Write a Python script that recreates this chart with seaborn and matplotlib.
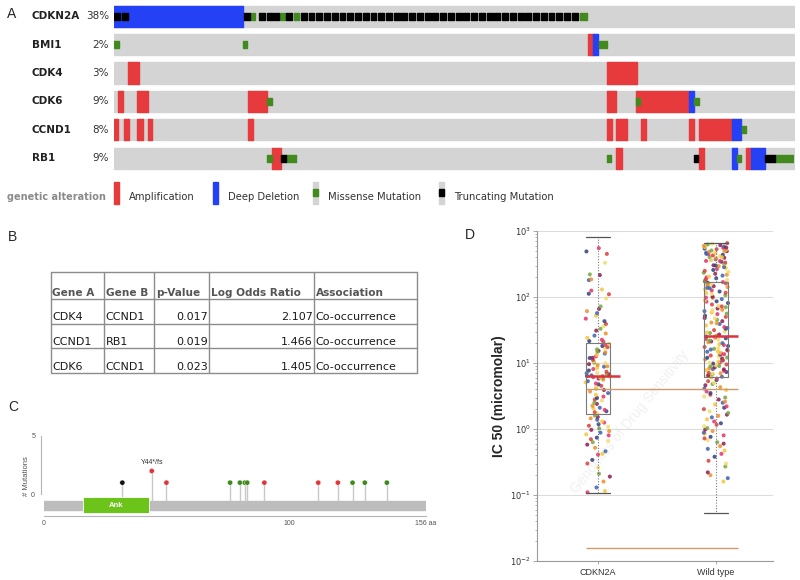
"""Four-panel figure: oncoprint (A), co-occurrence table (B), lollipop plot (C), IC50 strip/box plot (D)."""

import matplotlib.pyplot as plt
import numpy as np
import pandas as pd
import seaborn as sns
from matplotlib.patches import Rectangle

sns.set_style("white")
plt.rcParams["font.family"] = ["DejaVu Sans"]

W, H = 800, 580
ARIAL = "Liberation Sans"

# ---------------- A: oncoprint (sample index, segments as (start, length)) ----------------
GENES = ["CDKN2A", "BMI1", "CDK4", "CDK6", "CCND1", "RB1"]
GENE_PCTS = ["38%", "2%", "3%", "9%", "8%", "9%"]
N_SAMPLES = 180

AMPLIFICATION = {
    "BMI1": [(125.5, 1.3)],
    "CDK4": [(3.8, 2.7), (130.5, 7.9)],
    "CDK6": [(1.1, 1.4), (6.2, 2.7), (35.4, 5.2), (130.5, 2.5), (138.3, 13.9)],
    "CCND1": [(0.1, 1.0), (2.6, 1.3), (6.2, 1.4), (8.9, 1.2), (35.4, 1.5), (130.5, 1.3),
              (133.0, 2.9), (139.4, 1.4), (152.2, 1.3), (154.8, 8.8)],
    "RB1": [(41.7, 2.6), (133.0, 1.4), (154.8, 1.3), (167.3, 1.4)],
}
DEEP_DELETION = {
    "CDKN2A": [(0.1, 34.1)],
    "BMI1": [(126.8, 1.3)],
    "CDK6": [(152.2, 1.3)],
    "CCND1": [(163.6, 2.4)],
    "RB1": [(163.6, 1.4), (168.7, 3.7)],
}
MISSENSE = {
    "CDKN2A": [(36.2, 1.2), (44.0, 1.3), (47.6, 1.3), (123.3, 1.9)],
    "BMI1": [(0.1, 1.1), (34.2, 1.1), (128.3, 2.2)],
    "CDK6": [(40.6, 1.2), (138.3, 1.0), (153.5, 1.3)],
    "CCND1": [(166.2, 1.1)],
    "RB1": [(40.6, 1.1), (45.5, 2.6), (130.5, 1.0), (164.9, 1.1), (175.0, 4.8)],
}
TRUNCATING = {
    "CDKN2A": [(0.1, 1.6), (2.0, 1.6), (34.5, 1.5), (38.5, 1.5), (40.5, 1.5), (42.3, 1.5),
               (45.6, 1.5), (49.5, 1.5), (51.5, 1.5), (53.6, 1.5), (55.6, 1.5), (57.7, 1.5),
               (59.7, 1.5), (61.8, 1.5), (63.8, 1.5), (65.9, 1.5), (67.9, 1.5), (70.0, 1.5),
               (72.0, 1.5), (74.1, 1.5), (76.1, 1.5), (78.2, 1.5), (80.2, 1.5), (82.3, 1.5),
               (84.3, 1.5), (86.4, 1.5), (88.4, 1.5), (90.5, 1.5), (92.5, 1.5), (94.6, 1.5),
               (96.6, 1.5), (98.7, 1.5), (100.7, 1.5), (102.8, 1.5), (104.8, 1.5), (106.9, 1.5),
               (108.9, 1.5), (111.0, 1.5), (113.0, 1.5), (115.1, 1.5), (117.1, 1.5), (119.2, 1.5),
               (121.2, 1.5)],
    "RB1": [(44.3, 1.2), (153.5, 1.2), (172.4, 1.2), (173.7, 1.2)],
}
LEGEND_LABELS = ["Amplification", "Deep Deletion", "Missense Mutation", "Truncating Mutation"]

TRACK_GREY = "#d4d4d4"
AMP_RED = "#e63a3c"
DEL_BLUE = "#2541f5"
MIS_GREEN = "#438a1e"

# ---------------- B: mutual exclusivity / co-occurrence table ----------------
TABLE_HEADER = ["Gene A", "Gene B", "p-Value", "Log Odds Ratio", "Association"]
GENE_A = ["CDK4", "CCND1", "CDK6"]
GENE_B = ["CCND1", "RB1", "CCND1"]
P_VALUES = [0.017, 0.019, 0.023]
LOG_ODDS = [2.107, 1.466, 1.405]
ASSOCIATION = ["Co-occurrence", "Co-occurrence", "Co-occurrence"]

# ---------------- C: lollipop plot ----------------
PROTEIN_LENGTH = 156
ANK_DOMAIN = (16, 43)
MUT_POS = [32, 44, 50, 76, 80, 82, 83, 90, 112, 120, 126, 131, 140]
MUT_COUNT = [1, 2, 1, 1, 1, 1, 1, 1, 1, 1, 1, 1, 1]
MUT_TYPE = ["trunc", "fs", "fs", "mis", "mis", "mis", "mis", "fs", "fs", "fs", "mis", "mis", "mis"]
MUT_COLORS = {"trunc": "#111111", "fs": "#e0353a", "mis": "#3f8a1c"}
HOTSPOT_LABEL = "Y44*/fs"

# ---------------- D: IC50 by CDKN2A status ----------------
GROUPS = ["CDKN2A", "Wild type"]
IC50_CDKN2A = [
    0.11, 0.115, 0.13, 0.16, 0.19, 0.21, 0.26, 0.3, 0.34, 0.41, 0.42, 0.46, 0.52, 0.58, 0.63,
    0.66, 0.7, 0.74, 0.8, 0.83, 0.88, 0.93, 0.97, 1.02, 1.08, 1.12, 1.18, 1.25, 1.3, 1.38,
    1.45, 1.52, 1.6,
    1.72, 1.8, 1.86, 1.95, 2.05, 2.1, 2.25, 2.4, 2.5, 2.7, 2.8, 2.95, 3.1, 3.3, 3.5, 3.7,
    3.9, 4.1, 4.3, 4.5, 4.75, 4.9, 5.1, 5.3, 5.6, 5.8, 6.0, 6.2, 6.3, 6.35, 6.1, 5.95,
    6.5, 6.6, 6.75, 6.9, 7.1, 7.4, 7.7, 8.1, 8.4, 8.8, 9.3, 9.6, 10.1, 10.6, 11.1, 11.9,
    12.6, 13.2, 13.9, 14.5, 15.3, 16.1, 16.8, 17.4, 18.1, 18.9, 19.5, 7.0, 8.9, 12.0, 14.8, 9.9,
    21, 21.5, 22.5, 24, 26, 28, 31, 33, 36, 39, 43, 47, 52, 57, 61, 66, 72, 95, 110, 112,
    125, 130, 180, 185, 215, 220, 330, 450, 490, 550,
]
IC50_WT = [
    0.16, 0.18, 0.2, 0.22, 0.27, 0.3, 0.33, 0.38, 0.42, 0.47, 0.5, 0.55, 0.6, 0.63, 0.68,
    0.72, 0.76, 0.8, 0.85, 0.88, 0.93, 0.98, 1.03, 1.1, 1.16, 1.22, 1.3, 1.4, 1.5, 1.58,
    1.65, 1.75, 1.85, 2.0, 2.1, 2.2, 2.35, 2.5, 2.6, 2.8, 3.0, 3.1, 3.3, 3.5, 3.7, 3.9,
    4.1, 4.3, 4.6, 4.8, 5.0, 5.3, 5.5, 5.8, 6.0,
    6.2, 6.35, 6.5, 6.7, 6.9, 7.1, 7.3, 7.6, 7.8, 8.1, 8.3, 8.6, 8.9, 9.2, 9.5, 9.8, 10.1,
    10.5, 10.9, 11.3, 11.7, 12.1, 12.6, 13.0, 13.4, 13.9, 14.3, 14.8, 15.3, 15.8, 16.4,
    17.0, 17.5, 18.1, 18.7, 19.3, 20.0, 20.6, 21.2, 21.9, 22.5, 23.1, 23.7, 24.3, 24.9,
    25.2, 7.0, 8.0, 9.0, 10.0, 11.0, 12.0, 13.6, 15.0, 16.0,
    26, 27, 28.5, 30, 31.5, 33, 35, 37, 39, 41, 43, 45, 47.5, 50, 52, 55, 58, 61, 64, 67,
    70, 73, 77, 81, 85, 89, 93, 97, 101, 106, 111, 116, 121, 126, 131, 136, 141, 146, 151,
    156, 161, 165, 168, 29, 34, 40, 48, 56, 63, 72, 86, 98, 115, 138, 155,
    172, 176, 181, 186, 192, 198, 204, 211, 218, 225, 233, 241, 249, 257, 266, 275, 284,
    293, 302, 312, 322, 332, 342, 352, 362, 372, 382, 393, 404, 415, 426, 437, 448, 459,
    470, 482, 494, 506, 518, 530, 542, 555, 568, 582, 596, 610, 625, 640, 655, 300, 350,
    400, 450, 500, 560,
]
BOX_Q1 = [1.7, 6.1]
BOX_MED = [6.4, 25.4]
BOX_Q3 = [19.9, 169.0]
WHISK_LO = [0.106, 0.053]
WHISK_HI = [803.0, 665.0]
THRESHOLDS = [4.0, 0.0156]
TISSUE_COLORS = ["#e8326a", "#f6c63c", "#3e63ad", "#ef8f2a", "#8c1d4f",
                 "#7aa63f", "#f3dc6b", "#d9413b", "#2f3f7c"]


fig = plt.figure(figsize=(8, 5.8), dpi=100)

# full-figure axes in pixel coordinates for labels, legend and table
ax_bg = fig.add_axes([0, 0, 1, 1])
ax_bg.set_xlim(0, W)
ax_bg.set_ylim(H, 0)
ax_bg.axis("off")


def px_axes(left, top, right, bottom):
    return fig.add_axes([left / W, 1 - bottom / H, (right - left) / W, (bottom - top) / H])


for letter, x, y in [("A", 7, 14), ("B", 8, 237), ("C", 8, 407), ("D", 465, 235)]:
    ax_bg.text(x, y, letter, fontsize=10, family=ARIAL, ha="left", va="center")

# ---- A ----
ax_a = px_axes(114, 2, 794, 172.4)
ax_a.set_xlim(0, N_SAMPLES)
ax_a.set_ylim(len(GENES) - 0.5, -0.5)
ax_a.axis("off")
for i, (gene, pct) in enumerate(zip(GENES, GENE_PCTS)):
    ax_a.broken_barh([(0, N_SAMPLES)], (i - 0.37, 0.74), color=TRACK_GREY)
    ax_a.broken_barh(AMPLIFICATION.get(gene, []), (i - 0.37, 0.74), color=AMP_RED)
    ax_a.broken_barh(DEEP_DELETION.get(gene, []), (i - 0.37, 0.74), color=DEL_BLUE)
    ax_a.broken_barh(MISSENSE.get(gene, []), (i - 0.12, 0.24), color=MIS_GREEN)
    ax_a.broken_barh(TRUNCATING.get(gene, []), (i - 0.12, 0.24), color="black")
    ax_a.annotate(gene, xy=(32 / W, i), xycoords=("figure fraction", "data"),
                  ha="left", va="center", fontsize=7.5, fontweight="bold", color="#222222")
    ax_a.annotate(pct, xy=(109 / W, i), xycoords=("figure fraction", "data"),
                  ha="right", va="center", fontsize=7.5, color="#333333")

# legend row
ax_bg.text(7, 197, "genetic alteration", fontsize=7, fontweight="bold", color="#8a8a8a",
           ha="left", va="center")
legend_x = [114, 213, 313, 439]
legend_fill = [AMP_RED, DEL_BLUE, TRACK_GREY, TRACK_GREY]
legend_mark = [None, None, MIS_GREEN, "black"]
for x, label, fill, mark in zip(legend_x, LEGEND_LABELS, legend_fill, legend_mark):
    ax_bg.add_patch(Rectangle((x, 182), 5, 22, color=fill))
    if mark:
        ax_bg.add_patch(Rectangle((x, 189), 5, 7, color=mark))
    ax_bg.text(x + 15, 196.5, label, fontsize=7.2, color="#333333", ha="left", va="center")

# ---- B ----
col_x = [50.5, 104, 154, 209.3, 314.3, 416.5]
row_y = [272.3, 299, 323.5, 347.8, 372.7]
for x in col_x:
    ax_bg.plot([x, x], [row_y[0], row_y[-1]], color="#8c8c8c", lw=1.0)
for y in row_y:
    ax_bg.plot([col_x[0], col_x[-1]], [y, y], color="#8c8c8c", lw=1.0)
for j, head in enumerate(TABLE_HEADER):
    ax_bg.text(col_x[j] + 2, row_y[1] - 3, head, fontsize=7.6, fontweight="bold",
               color="#555555", ha="left", va="baseline")
for r in range(len(GENE_A)):
    base = row_y[r + 2] - 3
    cells = [GENE_A[r], GENE_B[r], f"{P_VALUES[r]:.3f}", f"{LOG_ODDS[r]:.3f}", ASSOCIATION[r]]
    for j, cell in enumerate(cells):
        if j in (2, 3):
            ax_bg.text(col_x[j + 1] - 1.5, base, cell, fontsize=8, color="#1a1a1a",
                       ha="right", va="baseline")
        else:
            ax_bg.text(col_x[j] + 1.5, base, cell, fontsize=8, color="#1a1a1a",
                       ha="left", va="baseline")

# ---- C ----
ax_c = px_axes(44, 436, 426, 516.3)
ax_c.set_xlim(0, PROTEIN_LENGTH)
ax_c.set_ylim(-1.887, 5)
for side in ["top", "right"]:
    ax_c.spines[side].set_visible(False)
ax_c.spines["left"].set_position(("outward", 2.4))
ax_c.spines["left"].set_bounds(0, 5)
ax_c.spines["bottom"].set_bounds(0, PROTEIN_LENGTH)
for side in ["left", "bottom"]:
    ax_c.spines[side].set_color("#b5b5b5")
    ax_c.spines[side].set_linewidth(0.8)
ax_c.set_yticks(range(6))
ax_c.set_yticklabels(["0", "", "", "", "", "5"])
ax_c.set_xticks([0, 100, 150, PROTEIN_LENGTH])
ax_c.set_xticklabels(["0", "100", "", f"{PROTEIN_LENGTH} aa"])
ax_c.tick_params(axis="y", direction="out", length=2.5, width=0.6, color="#b5b5b5",
                 labelsize=5, labelcolor="#555555", pad=1.5)
ax_c.tick_params(axis="x", direction="in", length=2.5, width=0.6, color="#b5b5b5",
                 labelsize=5, labelcolor="#555555", pad=3)
ax_c.set_ylabel("# Mutations", fontsize=5.5, color="#555555", family=ARIAL, labelpad=1)
ax_c.add_patch(Rectangle((0, -1.35), PROTEIN_LENGTH, 0.78, color="#bdbdbd", zorder=1))
ax_c.add_patch(Rectangle((ANK_DOMAIN[0], -1.63), ANK_DOMAIN[1] - ANK_DOMAIN[0], 1.37,
                         facecolor="#6cc41a", edgecolor="white", lw=0.6, zorder=2))
ax_c.text(sum(ANK_DOMAIN) / 2, -0.95, "Ank", color="white", fontsize=5.5, fontweight="bold",
          family=ARIAL, ha="center", va="center", zorder=3)
ax_c.vlines(MUT_POS, -0.57, MUT_COUNT, color="#c8c8c8", lw=1.0, zorder=1)
ax_c.scatter(MUT_POS, MUT_COUNT, c=[MUT_COLORS[t] for t in MUT_TYPE], s=14,
             edgecolors="white", linewidths=0.3, zorder=3)
top = int(np.argmax(MUT_COUNT))
ax_c.text(MUT_POS[top], MUT_COUNT[top] + 0.72, HOTSPOT_LABEL, fontsize=5, family=ARIAL,
          color="#333333", ha="center", va="center")
for lab in ax_c.get_xticklabels() + ax_c.get_yticklabels():
    lab.set_family(ARIAL)

# ---- D ----
ax_d = px_axes(537, 231, 773, 561)
df = pd.DataFrame({
    "group": [GROUPS[0]] * len(IC50_CDKN2A) + [GROUPS[1]] * len(IC50_WT),
    "ic50": IC50_CDKN2A + IC50_WT,
})
df["pt"] = df.index.astype(str)
pal = sns.color_palette(TISSUE_COLORS, len(df))
np.random.seed(7)
sns.stripplot(data=df, x="group", y="ic50", hue="pt", palette=pal, order=GROUPS,
              jitter=0.105, size=2.9, alpha=0.85, linewidth=0, legend=False, ax=ax_d, zorder=2)

stats = [
    {"med": m, "q1": q1, "q3": q3, "whislo": lo, "whishi": hi, "fliers": []}
    for m, q1, q3, lo, hi in zip(BOX_MED, BOX_Q1, BOX_Q3, WHISK_LO, WHISK_HI)
]
pos = np.arange(len(GROUPS))
ax_d.bxp(stats, positions=pos, widths=0.2, capwidths=0.21, showfliers=False,
         manage_ticks=False,
         boxprops=dict(color="#7a7a7a", lw=0.8),
         whiskerprops=dict(color="#7a7a7a", lw=0.8, linestyle=(0, (1, 1.5))),
         capprops=dict(color="#555555", lw=0.9),
         medianprops=dict(lw=0))
ax_d.hlines(BOX_MED, pos - 0.1, pos + 0.19, color="#d9343f", lw=1.8, zorder=4)
ax_d.hlines(THRESHOLDS, -0.1, 1.19, color="#cf9a6b", lw=1.0, zorder=4)

ax_d.set_yscale("log")
ax_d.set_ylim(1e-2, 1e3)
ax_d.set_xlim(-0.517, 1.483)
ax_d.set_xticks(pos)
ax_d.set_xticklabels(GROUPS, family=ARIAL)
ax_d.set_xlabel("")
ax_d.set_ylabel("IC 50 (micromolar)", fontsize=10, fontweight="bold", family=ARIAL, labelpad=3)
ax_d.yaxis.grid(True, which="major", color="#dcdcdc", lw=0.8)
ax_d.set_axisbelow(True)
for side in ["top", "right"]:
    ax_d.spines[side].set_visible(False)
for side in ["left", "bottom"]:
    ax_d.spines[side].set_color("#9a9a9a")
    ax_d.spines[side].set_linewidth(0.8)
ax_d.tick_params(axis="y", which="major", direction="out", length=3, width=0.6,
                 color="#9a9a9a", labelsize=6, labelcolor="#333333", pad=1.5, left=True)
ax_d.tick_params(axis="y", which="minor", direction="out", length=1.5, width=0.5,
                 color="#9a9a9a", left=True)
ax_d.tick_params(axis="x", direction="out", length=2, width=0.6, color="#9a9a9a",
                 labelsize=6.5, labelcolor="#333333", pad=3, bottom=True)
ax_d.text(0.394, 0.422, "Genomics of Drug Sensitivity", transform=ax_d.transAxes,
          rotation=51, fontsize=10, family=ARIAL, color="#f1f1f1",
          ha="center", va="center", zorder=0)

fig.savefig("out.png", dpi=100)
